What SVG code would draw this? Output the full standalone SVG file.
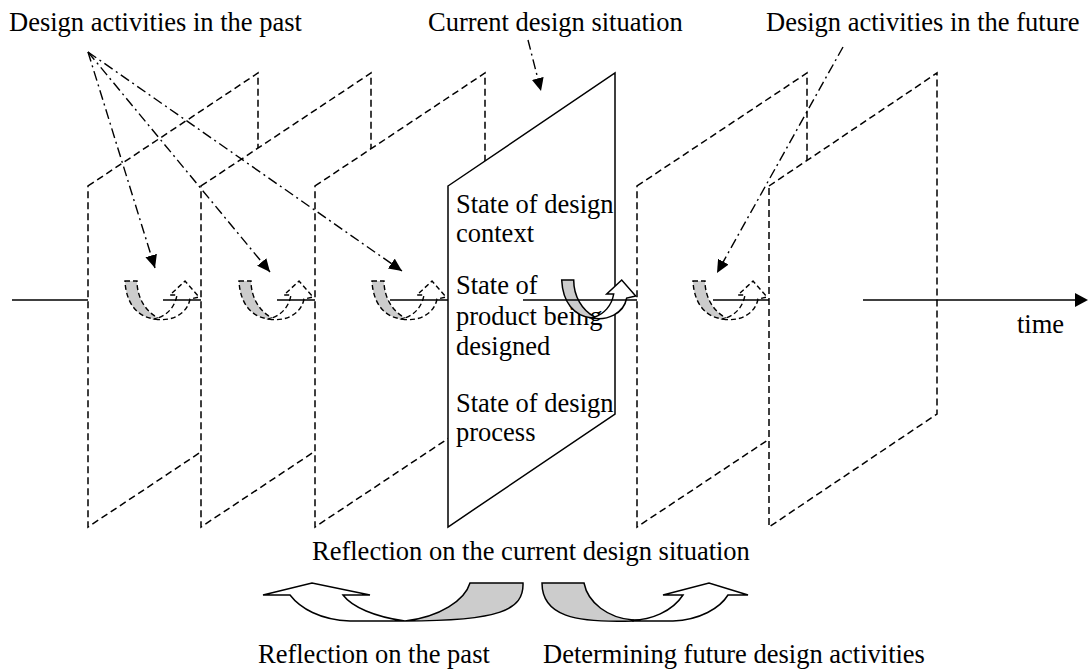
<svg xmlns="http://www.w3.org/2000/svg" width="1089" height="670" viewBox="0 0 1089 670">
<defs>
<style>
.lbl{font-family:"Liberation Serif","Times New Roman",serif;font-size:26.5px;fill:#000}
.dplane{fill:#fff;stroke:#000;stroke-width:1.5;stroke-dasharray:7 4}
.splane{fill:#fff;stroke:#000;stroke-width:1.5}
.axis{stroke:#000;stroke-width:1.5;fill:none}
.dd{stroke:#000;stroke-width:1.4;fill:none;stroke-dasharray:10 4 2 4;marker-end:url(#ah)}
.g{fill:#cccccc}
.w{fill:#fff}
.dash path{stroke:#000;stroke-width:1.4;stroke-dasharray:5 3}
.solid path{stroke:#000;stroke-width:1.5}
.barrow path{stroke:#000;stroke-width:1.5}
</style>
<marker id="ah" markerUnits="userSpaceOnUse" markerWidth="14" markerHeight="12" refX="13" refY="6" orient="auto">
<path d="M0,0 L13,6 L0,12 Z" fill="#000"/>
</marker>
</defs>

<g id="plane-past-1">
<polygon class="dplane" points="88,186 258,73 258,414 88,527"/>
<g class="dash" transform="translate(125,281)">
<path class="g" d="M0,0 L12,0 C12,16 20,30 33,37 L30,38 C12,36 1,22 0,0 Z"/>
<path class="w" d="M30,38 C45,41 62,34 65,18 L74,16 L60,0 L45,14 L52,14 C50,26 42,34 33,37 Z"/>
</g>
<line class="axis" x1="163" y1="300" x2="201" y2="300"/>
</g>
<g id="plane-past-2">
<polygon class="dplane" points="201,186 371,73 371,414 201,527"/>
<g class="dash" transform="translate(239,281)">
<path class="g" d="M0,0 L12,0 C12,16 20,30 33,37 L30,38 C12,36 1,22 0,0 Z"/>
<path class="w" d="M30,38 C45,41 62,34 65,18 L74,16 L60,0 L45,14 L52,14 C50,26 42,34 33,37 Z"/>
</g>
<line class="axis" x1="277" y1="300" x2="315" y2="300"/>
</g>
<g id="plane-past-3">
<polygon class="dplane" points="315,186 485,73 485,414 315,527"/>
<g class="dash" transform="translate(372,281)">
<path class="g" d="M0,0 L12,0 C12,16 20,30 33,37 L30,38 C12,36 1,22 0,0 Z"/>
<path class="w" d="M30,38 C45,41 62,34 65,18 L74,16 L60,0 L45,14 L52,14 C50,26 42,34 33,37 Z"/>
</g>
<line class="axis" x1="390" y1="300" x2="448" y2="300"/>
</g>
<g id="plane-current">
<polygon class="splane" points="448,186 615,73 615,414 448,527"/>
<text class="lbl" x="456" y="213">State of design</text>
<text class="lbl" x="456" y="242">context</text>
<text class="lbl" x="456" y="294">State of</text>
<text class="lbl" x="456" y="325">product being</text>
<text class="lbl" x="456" y="355">designed</text>
<text class="lbl" x="456" y="412">State of design</text>
<text class="lbl" x="456" y="441">process</text>
<g class="solid" transform="translate(561.7,280)">
<path class="g" d="M0,0 L12,0 C12,16 20,30 33,37 L30,38 C12,36 1,22 0,0 Z"/>
<path class="w" d="M30,38 C45,41 62,34 65,18 L74,16 L60,0 L45,14 L52,14 C50,26 42,34 33,37 Z"/>
</g>
<line class="axis" x1="523" y1="300" x2="637" y2="300"/>
</g>
<g id="plane-future-1">
<polygon class="dplane" points="637,186 807,73 807,414 637,527"/>
<g class="dash" transform="translate(693,281)">
<path class="g" d="M0,0 L12,0 C12,16 20,30 33,37 L30,38 C12,36 1,22 0,0 Z"/>
<path class="w" d="M30,38 C45,41 62,34 65,18 L74,16 L60,0 L45,14 L52,14 C50,26 42,34 33,37 Z"/>
</g>
<line class="axis" x1="713" y1="300" x2="769" y2="300"/>
</g>
<g id="plane-future-2">
<polygon class="dplane" points="769,186 937,73 937,414 769,527"/>
</g>

<g id="connectors">
<line class="axis" x1="12" y1="300" x2="88" y2="300"/>
<line class="axis" x1="863" y1="300" x2="1076" y2="300"/>
<polygon points="1075,293 1088,300 1075,307" fill="#000"/>
<line class="dd" x1="88" y1="52" x2="155" y2="268"/>
<line class="dd" x1="88" y1="52" x2="270" y2="272"/>
<line class="dd" x1="88" y1="52" x2="402" y2="271"/>
<line class="dd" x1="528" y1="40" x2="541" y2="91"/>
<line class="dd" x1="843" y1="47" x2="717" y2="273"/>
</g>

<g id="labels">
<text class="lbl" x="9" y="31">Design activities in the past</text>
<text class="lbl" x="428" y="31">Current design situation</text>
<text class="lbl" x="766" y="31">Design activities in the future</text>
<text class="lbl" x="1017" y="333">time</text>
<text class="lbl" x="312" y="560">Reflection on the current design situation</text>
<text class="lbl" x="258" y="663">Reflection on the past</text>
<text class="lbl" x="543" y="663">Determining future design activities</text>
</g>

<g id="arrow-past" class="barrow">
<path class="g" d="M470,583 L523,583 C524,610 500,621 405,621 C440,617 465,600 470,583 Z"/>
<path class="w" d="M405,621 L350,621 C320,620 300,608 290,595 L263,595 L312,583 L370,595 L343,595 C352,607 375,617 405,621 Z"/>
</g>
<g id="arrow-future" class="barrow">
<path class="g" d="M542,583 L584,583 C588,603 608,618 633,620 L633,621 C575,623 542,616 542,583 Z"/>
<path class="w" d="M633,620 C650,620 672,612 683,595 L663,595 L709,583 L748,595 L728,595 C720,608 700,620 673,621 L633,621 Z"/>
</g>
</svg>
